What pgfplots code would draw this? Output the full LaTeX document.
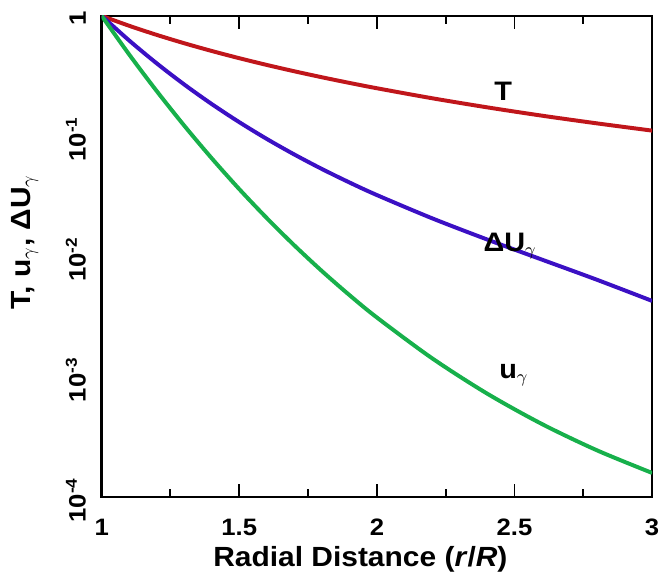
\documentclass[border=0pt]{standalone}
\usepackage{fontspec}
\setmainfont{Liberation Sans}[FakeStretch=1.08]
\usepackage{pgfplots}
\pgfplotsset{compat=1.18}

\definecolor{curveT}{HTML}{C0161B}
\definecolor{curveDU}{HTML}{3B10C4}
\definecolor{curveU}{HTML}{17B04B}

\begin{document}
\begin{tikzpicture}
\begin{axis}[
  name=ax,
  scale only axis,
  width=278pt, height=243pt,
  xmin=1, xmax=3,
  ymode=log, ymin=1e-4, ymax=1,
  xtick={1,1.5,2,2.5,3},
  xticklabels={1,1.5,2,2.5,3},
  minor x tick num=1,
  ytick={1e-4,1e-3,1e-2,1e-1,1},
  yticklabels={10\textsuperscript{-4},10\textsuperscript{-3},10\textsuperscript{-2},10\textsuperscript{-1},1},
  yminorticks=false,
  ytick style={draw=none},
  tick align=inside,
  major tick length=6.5pt,
  minor tick length=4pt,
  xtick style={line width=1pt, black},
  axis line style={line width=1.2pt},
  /pgf/number format/assume math mode=true,
  every tick label/.append style={font=\fontsize{12}{13}\selectfont\bfseries},
  xticklabel style={yshift=-7.5pt},
  yticklabel style={rotate=90, anchor=south, xshift=-1.5pt, yshift=4.5pt},
  every axis x label/.style={at={(axis description cs:0.47,-0.13)}, anchor=center},
  every axis y label/.style={at={(axis description cs:-0.14,0.53)}, rotate=90, anchor=center},
  label style={font=\fontsize{14}{16}\selectfont\bfseries},
  xlabel={Radial Distance (\textit{r}/\textit{R})},
  ylabel={T, u\textsubscript{$\gamma$}, ΔU\textsubscript{$\gamma$}},
  clip=true,
]
\addplot[curveT, line width=2pt, smooth] coordinates {
  (1.0,1) (1.1,0.8264) (1.2,0.6944) (1.3,0.5917) (1.4,0.5102) (1.5,0.4444)
  (1.6,0.3906) (1.7,0.3460) (1.8,0.3086) (1.9,0.2770) (2.0,0.25)
  (2.2,0.2066) (2.4,0.1736) (2.6,0.1479) (2.8,0.1276) (3.0,0.1111)
};
\addplot[curveDU, line width=2pt, smooth] coordinates {
  (1.0,1) (1.1,0.6236) (1.2,0.4027) (1.3,0.2687) (1.4,0.1847) (1.5,0.1306)
  (1.6,0.09473) (1.7,0.07035) (1.8,0.05333) (1.9,0.04121) (2.0,0.03236)
  (2.2,0.02077) (2.4,0.01384) (2.6,0.009399) (2.8,0.006389) (3.0,0.004266)
};
\addplot[curveU, line width=2pt, smooth] coordinates {
  (1.0,1) (1.1,0.477) (1.2,0.2369) (1.3,0.1222) (1.4,0.06539) (1.5,0.03625)
  (1.6,0.02082) (1.7,0.01235) (1.8,0.007562) (1.9,0.004775) (2.0,0.003105)
  (2.2,0.001426) (2.4,0.0007249) (2.6,0.0004038) (2.8,0.0002441) (3.0,0.0001585)
};
\node[anchor=base west, inner sep=0pt, font=\fontsize{13.5}{15}\selectfont\bfseries] at (axis cs:2.4255,0.1995) {T};
\node[anchor=base west, inner sep=0pt, font=\fontsize{13.5}{15}\selectfont\bfseries] at (axis cs:2.386,0.011) {ΔU\textsubscript{$\gamma$}};
\node[anchor=base west, inner sep=0pt, font=\fontsize{13.5}{15}\selectfont\bfseries] at (axis cs:2.4435,0.000972) {u\textsubscript{$\gamma$}};
\end{axis}
\pgfresetboundingbox
\path ([shift={(-51.35pt,-38.5pt)}]ax.south west) rectangle ([shift={(4.5pt,8pt)}]ax.north east);
\end{tikzpicture}
\end{document}
